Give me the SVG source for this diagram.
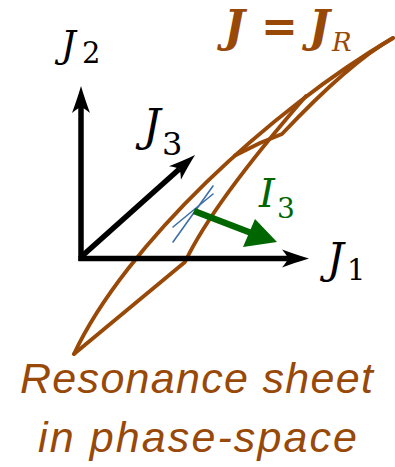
<svg xmlns="http://www.w3.org/2000/svg" width="395" height="467" viewBox="0 0 395 467">
<style>
.sheet{fill:none;stroke:#984807;stroke-width:3.8;stroke-linejoin:round;stroke-linecap:round}
.axis{fill:none;stroke:#000;stroke-width:5.5}
.blue{fill:none;stroke:#3f6fa8;stroke-width:1.6;stroke-linecap:round}
.math{font-family:"DejaVu Serif","Liberation Serif",serif;font-style:italic}
.sub{font-style:normal}
.brown{fill:#984807}
.green{fill:#006600}
.cap{font-family:"Liberation Sans",Arial,sans-serif;font-style:italic;font-size:43px;fill:#984807}
</style>
<defs>
<marker id="ah" markerUnits="userSpaceOnUse" markerWidth="30" markerHeight="20" refX="6" refY="0" viewBox="0 -10 30 20" orient="auto" overflow="visible">
<path d="M27,0 Q15,-3.5 0,-9 Q5,-3 6,0 Q5,3 0,9 Q15,3.5 27,0 Z" fill="#000"/>
</marker>
</defs>
<g id="sheet">
<path class="sheet" d="M74,354 C125,245 270,110 393,38"/>
<path class="sheet" d="M74,354 L185,262 Q213,203 306,96"/>
<path class="sheet" d="M393,38 Q350,62 282,134 L260,143 L235,155.5"/>
</g>
<g id="axes">
<line class="axis" x1="81" y1="261" x2="81" y2="107" marker-end="url(#ah)"/>
<line class="axis" x1="78.5" y1="258.5" x2="288" y2="258.5" marker-end="url(#ah)"/>
<line class="axis" x1="81" y1="257" x2="179.4" y2="169" marker-end="url(#ah)"/>
</g>
<g id="tangent">
<line class="blue" x1="173" y1="242" x2="213" y2="186"/>
<line class="blue" x1="173" y1="227" x2="213" y2="194"/>
</g>
<g id="I3-arrow">
<line x1="194" y1="211" x2="250" y2="232.5" stroke="#006600" stroke-width="6.5"/>
<polygon points="277,242 255,219 243,247" fill="#006600"/>
</g>
<g id="labels">
<text class="math" x="61" y="57" font-size="37">J<tspan class="sub" x="82" y="63" font-size="29">2</tspan></text>
<text class="math" x="143" y="141" font-size="44">J<tspan class="sub" x="162" y="155" font-size="32">3</tspan></text>
<text class="math" x="327" y="273" font-size="42">J<tspan class="sub" x="347" y="280" font-size="29">1</tspan></text>
<text class="math green" x="259" y="207" font-size="40">I<tspan class="sub" x="277" y="218" font-size="28">3</tspan></text>
<text class="math brown" font-size="44" font-weight="bold" x="224" y="42">J<tspan x="261" y="42" font-style="normal">=</tspan><tspan x="309" y="42">J</tspan><tspan x="332" y="51" font-size="26" font-weight="normal">R</tspan></text>
</g>
<g id="caption">
<text class="cap" x="20" y="393" textLength="353" lengthAdjust="spacing">Resonance sheet</text>
<text class="cap" x="38" y="452" textLength="319" lengthAdjust="spacing">in phase-space</text>
</g>
</svg>
